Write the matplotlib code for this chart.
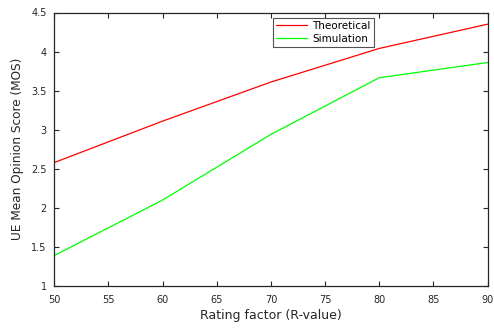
import matplotlib
matplotlib.use("Agg")
import matplotlib.pyplot as plt

r_values = [50, 60, 70, 80, 90]
theoretical = [2.58, 3.11, 3.61, 4.04, 4.35]
simulation = [1.39, 2.10, 2.94, 3.665, 3.86]
xticks = [50, 55, 60, 65, 70, 75, 80, 85, 90]
yticks = [1, 1.5, 2, 2.5, 3, 3.5, 4, 4.5]

plt.rcParams['font.family'] = ['DejaVu Sans']

fig = plt.figure(figsize=(4.94, 3.28), dpi=100)
ax = fig.add_axes([54.3/494, 1-286/328, (487.5-54.3)/494, (286-12.5)/328])

ax.plot(r_values, theoretical, color='#ff0000', lw=0.9, label='Theoretical')
ax.plot(r_values, simulation, color='#00ff00', lw=0.9, label='Simulation')

ax.set_xlim(50, 90)
ax.set_ylim(1, 4.5)
ax.set_xticks(xticks)
ax.set_xticklabels([str(v) for v in xticks])
ax.set_yticks(yticks)
ax.set_yticklabels([('%g' % v) for v in yticks])
ax.tick_params(direction='in', top=True, right=True, length=3.5, width=0.8,
               labelsize=7, colors='#262626')
ax.tick_params(axis='x', pad=6.5)
ax.tick_params(axis='y', pad=5.5)
for s in ax.spines.values():
    s.set_linewidth(0.9)
    s.set_color('#262626')

ax.set_xlabel('Rating factor (R-value)', fontsize=9, color='#262626', labelpad=3)
ax.set_ylabel('UE Mean Opinion Score (MOS)', fontsize=8.7, color='#262626', labelpad=5.5)

leg = ax.legend(loc='upper left', bbox_to_anchor=((273-54.3)/433.2, (286-18)/273.5),
                fontsize=7.5, frameon=True, fancybox=False, borderpad=0.3,
                handlelength=3.0, handletextpad=0.45, labelspacing=0.25, borderaxespad=0)
leg.get_frame().set_edgecolor('#262626')
leg.get_frame().set_linewidth(0.8)

fig.savefig('out.png', dpi=100)
